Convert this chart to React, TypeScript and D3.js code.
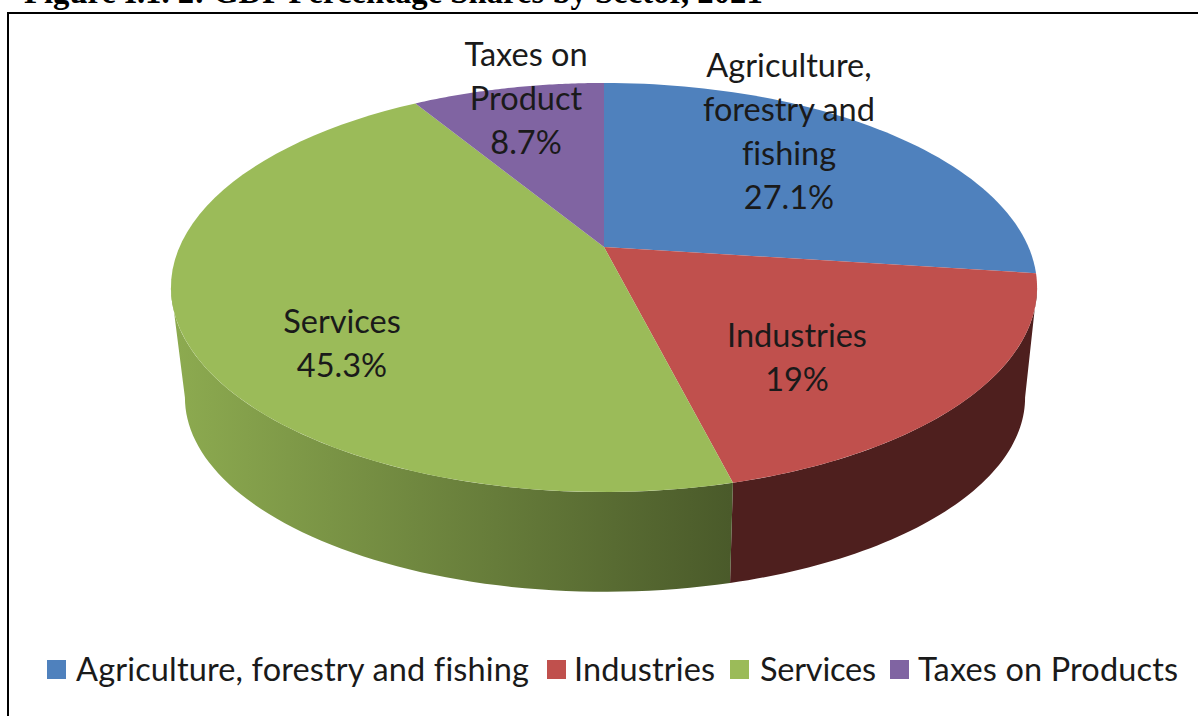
import React from 'react';
import * as d3 from 'd3';

const titleText = 'Figure I.1. 2: GDP Percentage Shares by Sector, 2021';
const sectors = ['Agriculture, forestry and fishing', 'Industries', 'Services', 'Taxes on Products'];
const shares = [27.1, 19, 45.3, 8.7];
const topColors = ['#4f81bd', '#c0504d', '#9bbb59', '#8064a2'];
const sideColors = ['#2f4d71', '#4e1f1e', 'url(#servicesSide)', '#4c3b62'];

// slice labels, one array of lines per slice
const labelLines = [
  ['Agriculture,', 'forestry and', 'fishing', '27.1%'],
  ['Industries', '19%'],
  ['Services', '45.3%'],
  ['Taxes on', 'Product', '8.7%'],
];
const labelPos = [
  { x: 789, y: 77 },
  { x: 797, y: 347 },
  { x: 342, y: 333 },
  { x: 526, y: 66 },
];
const legendX = [47, 547, 730, 890];
const legendTextX = [76, 574, 760, 918];
const legendTextW = [453, 141, 116, 260];

const width = 1198;
const height = 716;
const tilt = 0.198;

// perspective projection of the tilted disc, t clockwise from 12 o'clock
const project = (disc: { cx: number; cy: number; sx: number; sy: number }) => (t: number): [number, number] => {
  const w = 1 + tilt * Math.cos(t);
  return [
    disc.cx + (disc.sx * 424.5 * Math.sin(t)) / w,
    disc.cy - (disc.sy * 196.5 * Math.cos(t)) / w,
  ];
};
const topDisc = project({ cx: 604, cy: 247, sx: 1, sy: 1 });
const baseDisc = project({ cx: 605, cy: 359, sx: 0.97, sy: 0.95 });

// angles where the wall meets the outline of the disc
const wallStart = Math.acos(-tilt);
const wallEnd = 2 * Math.PI - wallStart;

const line = d3.line();
const steps = (a: number, b: number) => d3.range(0, 61).map(i => a + ((b - a) * i) / 60);

const textStyle: React.CSSProperties = { fontVariantLigatures: 'none' };

const App: React.FC = () => {
  const arcs = d3.pie<number>().sort(null)(shares);

  return (
    <svg width={width} height={height} style={{ position: 'absolute', left: 0, top: 0, background: '#fff' }}>
      <defs>
        <linearGradient id="servicesSide" gradientUnits="userSpaceOnUse" x1="171" x2="731" y1="0" y2="0">
          <stop offset="0" stopColor="#8dab50" />
          <stop offset="1" stopColor="#4a5a2a" />
        </linearGradient>
      </defs>

      <text x={24} y={3} fontFamily="Liberation Serif" fontWeight="bold" fontSize={32.7} fill="#000">
        {titleText}
      </text>
      <rect x={8} y={13} width={1220} height={740} fill="none" stroke="#000" strokeWidth={2} />

      {/* side walls, only the front part shows */}
      {arcs.map((d, i) => {
        const a = Math.max(d.startAngle, wallStart);
        const b = Math.min(d.endAngle, wallEnd);
        if (b <= a) return null;
        const pts = [...steps(a, b).map(topDisc), ...steps(b, a).map(baseDisc)];
        return <path key={i} d={line(pts) + 'Z'} fill={sideColors[i]} />;
      })}

      {/* top face */}
      {arcs.map((d, i) => (
        <path
          key={i}
          d={line([[604, 247], ...steps(d.startAngle, d.endAngle).map(topDisc)]) + 'Z'}
          fill={topColors[i]}
        />
      ))}

      {labelLines.map((lines, i) => (
        <text key={i} textAnchor="middle" fontFamily="Lato" fontSize={32.5} fill="#1a1a1a" style={textStyle}>
          {lines.map((l, j) => (
            <tspan key={j} x={labelPos[i].x} y={labelPos[i].y + j * 44}>{l}</tspan>
          ))}
        </text>
      ))}

      {sectors.map((s, i) => (
        <g key={s}>
          <rect x={legendX[i]} y={660} width={19} height={19} fill={topColors[i]} />
          <text
            x={legendTextX[i]}
            y={681}
            textLength={legendTextW[i]}
            lengthAdjust="spacing"
            fontFamily="Lato"
            fontSize={32.5}
            fill="#1a1a1a"
            style={textStyle}
          >
            {s}
          </text>
        </g>
      ))}
    </svg>
  );
};

export default App;
